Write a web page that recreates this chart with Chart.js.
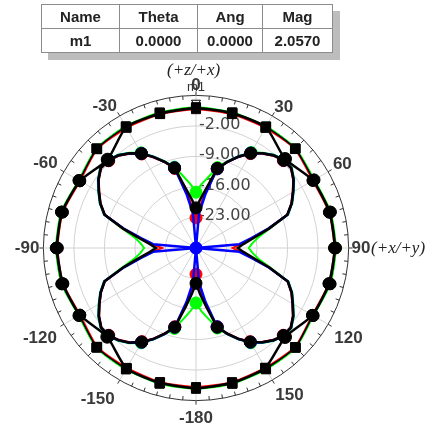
<!DOCTYPE html>
<html>
<head>
<meta charset="utf-8">
<script src="https://cdn.jsdelivr.net/npm/chart.js@4.4.1/dist/chart.umd.min.js"></script>
<style>
  html, body { margin: 0; padding: 0; width: 432px; height: 427px; overflow: hidden; background: #fff; }
  #wrap { position: relative; width: 432px; height: 427px; }
  #polar { position: absolute; left: 0; top: 0; }
  table.mk {
    position: absolute; left: 41px; top: 4px; z-index: 2;
    border-collapse: collapse; background: #fff;
    box-shadow: 7px 7px 0 #bdbdbd;
    font: bold 15px "Liberation Sans", Arial, sans-serif; color: #222;
  }
  table.mk td { border: 1px solid #8c8c8c; text-align: center; padding: 0; height: 23px; }
  .note { position: absolute; z-index: 2; white-space: nowrap; }
  .axis { font: italic 17px "Liberation Serif", "Times New Roman", serif; color: #222; }
  #m1 { font: 13px "Liberation Sans", Arial, sans-serif; color: #333; left: 187px; top: 79px; }
</style>
</head>
<body>
<div id="wrap">
  <canvas id="polar" width="432" height="440"></canvas>
  <table class="mk">
    <tr><td style="width:77px">Name</td><td style="width:77px">Theta</td><td style="width:64px">Ang</td><td style="width:69px">Mag</td></tr>
    <tr><td>m1</td><td>0.0000</td><td>0.0000</td><td>2.0570</td></tr>
  </table>
  <span class="note axis" style="left:167px; top:60px;">(+z/+x)</span>
  <span class="note axis" style="left:371px; top:238px;">(+x/+y)</span>
  <span class="note" id="m1">m1</span>
</div>
<script>
// angle categories, 5 degree steps, clockwise from the top
const angles = [];
for (let a = 0; a < 180; a += 5) angles.push(a);
for (let a = -180; a < 0; a += 5) angles.push(a);

// radial axis (dB)
const rMin = -30, rMax = 5, rStep = 7;
const radialTicks = [-2, -9, -16, -23];
const m1Mag = 2.057;

// gap between ring and angle label, per labelled angle
const labelGap = { 0: 0, 30: 4, 60: 5.5, 90: 3, 120: 7, 150: 6, '-180': 8,
  '-150': 10, '-120': 8, '-90': 4, '-60': 7, '-30': 5.5 };

// near-circular traces, sampled every 15 degrees
const outerAngles = [0, 15, 30, 45, 60, 75, 90, 105, 120, 135, 150, 165,
  -180, -165, -150, -135, -120, -105, -90, -75, -60, -45, -30, -15];
const outerBlack = [2.06, 2.00, 2.00, -1.10, 0.97, 1.71, 1.82, 1.55, 0.85, -1.10, 1.75, 2.00,
  2.12, 2.00, 1.89, -1.20, 0.74, 1.60, 1.89, 1.78, 0.74, -1.33, 2.00, 1.89];
const outerDark = [2.15, 2.08, 2.06, 2.18, 1.15, 1.82, 1.92, 1.76, 0.93, 2.22, 1.98, 2.10,
  2.14, 2.08, 2.02, 2.18, 0.90, 1.79, 1.96, 1.86, 0.92, 2.16, 2.08, 2.04];
const outerGreen = [2.28, 2.19, 2.19, 2.30, 1.31, 1.96, 2.05, 1.89, 1.08, 2.35, 2.12, 2.24,
  2.28, 2.22, 2.15, 2.32, 1.05, 1.92, 2.10, 2.00, 1.05, 2.30, 2.22, 2.18];
const outerBlue = [2.18, 2.12, 2.10, 2.22, 1.20, 1.86, 1.96, 1.80, 0.98, 2.26, 2.02, 2.14,
  2.18, 2.12, 2.05, 2.22, 0.95, 1.83, 2.00, 1.90, 0.96, 2.20, 2.12, 2.08];
const outerRed = [1.85, 1.80, 1.82, 2.10, 0.95, 1.62, 1.72, 1.55, 0.80, 2.12, 1.75, 1.86,
  1.90, 1.84, 1.76, 2.05, 0.72, 1.58, 1.75, 1.66, 0.74, 2.05, 1.84, 1.80];

// four-lobed traces, one value per angle category
const lobeGreen = [-17.2, -15.3, -13.4, -10.9, -8.8, -6.7, -4.7, -3.3, -2.1, -1.35, -1.3, -2.5,
  -4.1, -5.6, -7.5, -12.3, -15.4, -17.0, -17.9, -17.0, -15.4, -12.2, -7.4, -5.6,
  -4.2, -2.6, -1.4, -1.4, -2.2, -3.4, -4.9, -6.8, -8.9, -11.0, -13.5, -15.4,
  -17.4, -15.5, -13.5, -10.9, -8.9, -6.8, -4.9, -3.3, -2.2, -1.4, -1.4, -2.6,
  -4.2, -5.7, -7.5, -12.4, -15.6, -17.2, -18.1, -17.2, -15.6, -12.4, -7.5, -5.6,
  -4.1, -2.5, -1.3, -1.4, -2.1, -3.3, -4.8, -6.8, -8.8, -10.8, -13.3, -15.3];
const lobeBlack = [-20.8, -18.8, -16.0, -11.1, -9.0, -6.9, -4.9, -3.5, -2.3, -1.55, -1.5, -2.7,
  -4.3, -5.8, -7.7, -12.6, -16.5, -19.0, -20.4, -19.0, -16.5, -12.5, -7.6, -5.8,
  -4.4, -2.8, -1.6, -1.6, -2.4, -3.6, -5.1, -7.0, -9.1, -11.2, -16.2, -19.4,
  -21.9, -19.5, -16.3, -11.2, -9.1, -7.0, -5.1, -3.5, -2.4, -1.6, -1.6, -2.8,
  -4.4, -5.9, -7.7, -12.7, -16.7, -19.3, -20.8, -19.3, -16.7, -12.6, -7.7, -5.8,
  -4.3, -2.7, -1.5, -1.6, -2.3, -3.5, -5.0, -7.0, -9.0, -11.0, -16.0, -18.8];
const lobeRed = [-23.1, -20.5, -16.9, -11.2, -9.1, -7.0, -5.0, -3.6, -2.4, -1.65, -1.6, -2.8,
  -4.4, -5.9, -7.8, -12.7, -17.0, -19.8, -21.6, -19.8, -17.0, -12.6, -7.7, -5.9,
  -4.5, -2.9, -1.7, -1.7, -2.5, -3.7, -5.2, -7.1, -9.2, -11.3, -16.9, -20.8,
  -24.0, -20.9, -17.0, -11.3, -9.2, -7.1, -5.2, -3.6, -2.5, -1.7, -1.7, -2.9,
  -4.5, -6.0, -7.8, -12.8, -17.2, -20.0, -22.2, -20.0, -17.2, -12.7, -7.8, -5.9,
  -4.4, -2.8, -1.6, -1.7, -2.4, -3.6, -5.1, -7.1, -9.1, -11.1, -16.9, -20.5];
const lobeBlue = [-30, -22.0, -17.4, -11.2, -8.95, -6.85, -4.85, -3.45, -2.25, -1.5, -1.45, -2.65,
  -4.25, -5.75, -7.65, -12.8, -17.2, -20.0, -30, -20.0, -17.2, -12.7, -7.55, -5.75,
  -4.35, -2.75, -1.55, -1.55, -2.35, -3.55, -5.05, -6.95, -9.05, -11.3, -17.4, -22.0,
  -30, -22.0, -17.4, -11.2, -9.05, -6.95, -5.05, -3.45, -2.35, -1.55, -1.55, -2.75,
  -4.35, -5.85, -7.65, -12.9, -17.3, -20.1, -30, -20.1, -17.3, -12.8, -7.65, -5.75,
  -4.25, -2.65, -1.45, -1.55, -2.25, -3.45, -4.95, -6.95, -8.95, -10.95, -17.4, -22.0];

const RED = '#ff0000', GREEN = '#00ff00', BLUE = '#0000ff', BLACK = '#000000';
const FONT = '"Liberation Sans", Arial, sans-serif';

function spread(vals) {
  return angles.map(a => {
    const k = outerAngles.indexOf(a);
    return k < 0 ? null : vals[k];
  });
}

function isSquare(a) {
  a = Math.abs(a);
  return a <= 45 || a >= 135;
}

function outerSet(label, color, vals, width, order, dips) {
  return {
    label, data: spread(vals), order,
    borderColor: color, borderWidth: width, fill: false, spanGaps: true, tension: 0.2,
    pointBackgroundColor: color, pointBorderColor: BLACK, pointBorderWidth: 1,
    pointStyle: c => {
      const a = angles[c.dataIndex];
      if (dips && Math.abs(a) % 90 === 45) return 'circle';
      return isSquare(a) ? 'rect' : 'circle';
    },
    pointRadius: c => isSquare(angles[c.dataIndex]) ? 6.4 : 5.8
  };
}

function lobeSet(label, color, vals, width, order) {
  return {
    label, data: vals, order,
    borderColor: color, borderWidth: width, fill: false, tension: 0,
    pointBackgroundColor: color, pointBorderColor: color, pointBorderWidth: 1,
    pointStyle: 'circle',
    pointRadius: c => {
      const a = angles[c.dataIndex];
      return a % 15 === 0 && isSquare(a) ? 6 : 0;
    }
  };
}

// outer ring ticks, radial value labels and the m1 marker
const polarExtras = {
  id: 'polarExtras',
  beforeDatasetsDraw(chart) {
    const s = chart.scales.r, ctx = chart.ctx, R = s.drawingArea;
    ctx.save();
    ctx.strokeStyle = '#333';
    ctx.lineWidth = 1;
    angles.forEach((a, i) => {
      const big = a % 30 === 0;
      const p1 = s.getPointPosition(i, big ? R + 4 : R);
      const p2 = s.getPointPosition(i, big ? R : R - 4);
      ctx.beginPath();
      ctx.moveTo(p1.x, p1.y);
      ctx.lineTo(p2.x, p2.y);
      ctx.stroke();
    });
    ctx.font = '16px "DejaVu Sans", sans-serif';
    ctx.fillStyle = '#444';
    ctx.textAlign = 'left';
    ctx.textBaseline = 'alphabetic';
    radialTicks.forEach(v => {
      const p = s.getPointPositionForValue(0, v);
      ctx.fillText(v.toFixed(2), p.x + 3, p.y + 3);
    });
    ctx.restore();
  },
  afterDatasetsDraw(chart) {
    const s = chart.scales.r, ctx = chart.ctx;
    const p = s.getPointPositionForValue(0, m1Mag);
    ctx.save();
    ctx.strokeStyle = '#000';
    ctx.lineWidth = 1;
    ctx.beginPath();
    ctx.moveTo(p.x - 4.5, p.y - 8);
    ctx.lineTo(p.x + 4.5, p.y - 8);
    ctx.lineTo(p.x, p.y - 1);
    ctx.closePath();
    ctx.stroke();
    ctx.restore();
  }
};

new Chart(document.getElementById('polar'), {
  type: 'radar',
  data: {
    labels: angles,
    datasets: [
      outerSet('outer red', RED, outerRed, 2, 7, false),
      outerSet('outer green', GREEN, outerGreen, 2, 8, false),
      outerSet('outer blue', BLUE, outerBlue, 2, 9, false),
      outerSet('outer dark', BLACK, outerDark, 1.5, 6, false),
      outerSet('outer black', BLACK, outerBlack, 2.5, 2, true),
      lobeSet('lobe red', RED, lobeRed, 2, 4),
      lobeSet('lobe green', GREEN, lobeGreen, 2, 5),
      lobeSet('lobe blue', BLUE, lobeBlue, 2.5, 3),
      lobeSet('lobe black', BLACK, lobeBlack, 2.5, 1)
    ]
  },
  options: {
    responsive: false,
    animation: false,
    events: [],
    layout: { padding: { left: 2, top: 71, right: 48, bottom: 7 } },
    plugins: { legend: { display: false }, tooltip: { enabled: false } },
    scales: {
      r: {
        min: rMin, max: rMax,
        startAngle: 0,
        ticks: { display: false, stepSize: rStep },
        grid: {
          circular: true,
          color: c => c.tick && c.tick.value === rMax ? '#333' : '#d2d2d2',
          lineWidth: 1
        },
        angleLines: {
          color: c => angles[c.index] % 30 === 0 ? '#d2d2d2' : 'rgba(0,0,0,0)',
          lineWidth: c => angles[c.index] % 30 === 0 ? 1 : 0
        },
        pointLabels: {
          display: true,
          color: '#3a3a3a',
          font: c => {
            const a = Math.abs(angles[c.index]);
            return { family: FONT, size: 17, weight: 'bold', lineHeight: (a === 30 || a === 60) ? 0.6 : 1.2 };
          },
          padding: c => angles[c.index] % 30 === 0 ? labelGap[angles[c.index]] : 0,
          callback: (lbl, i) => angles[i] % 30 === 0 ? String(lbl) : []
        }
      }
    }
  },
  plugins: [polarExtras]
});
</script>
</body>
</html>
